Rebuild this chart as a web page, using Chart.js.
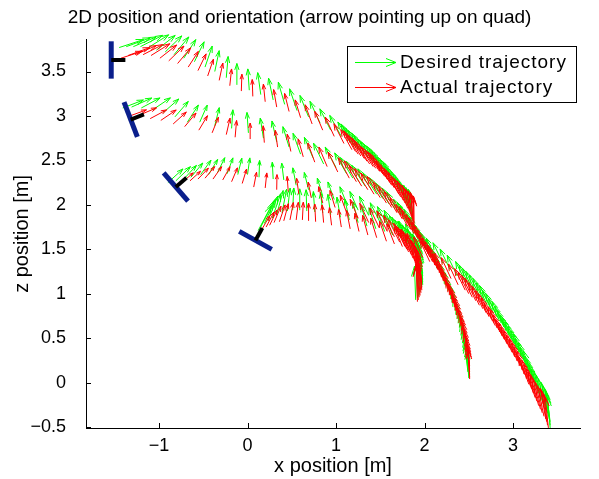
<!DOCTYPE html>
<html>
<head>
<meta charset="utf-8">
<script src="https://cdn.jsdelivr.net/npm/chart.js@4.4.1/dist/chart.umd.min.js"></script>
<style>
  html, body { margin: 0; padding: 0; background: #fff; }
</style>
</head>
<body>
<canvas id="chart" width="599" height="479"></canvas>
<script>
// axis ticks
const xTicks = [-1, 0, 1, 2, 3];
const zTicks = [-0.5, 0, 0.5, 1, 1.5, 2, 2.5, 3, 3.5];

// quad start poses: centre x, z and tilt of the "up" arrow (deg, + = towards +x)
const quadX = [-1.54, -1.32, -0.81, 0.09];
const quadZ = [3.63, 2.96, 2.20, 1.60];
const quadTilt = [90, 69, 49, 29];

// rows: [x, z, tilt (deg), arrow length (m)]
const desired1 = [
  [-1.45, 3.77, 72, .29], [-1.37, 3.78, 70, .29], [-1.29, 3.78, 67, .28], [-1.21, 3.78, 63, .28],
  [-1.12, 3.77, 58, .27], [-1.03, 3.74, 52, .27], [-0.93, 3.72, 46, .26], [-0.83, 3.69, 40, .26],
  [-0.72, 3.65, 33, .25], [-0.60, 3.61, 26, .25], [-0.48, 3.55, 19, .25], [-0.37, 3.50, 12, .24],
  [-0.24, 3.43, 5, .24], [-0.12, 3.35, 0, .24], [0.02, 3.29, -4, .24], [0.15, 3.24, -8, .25],
  [0.29, 3.18, -12, .25], [0.42, 3.13, -16, .26], [0.56, 3.06, -19, .26], [0.69, 2.99, -22, .26],
  [0.82, 2.92, -25, .27], [0.94, 2.84, -27, .27], [1.06, 2.77, -29, .27], [1.16, 2.70, -31, .27],
  [1.20, 2.67, -31, .28], [1.23, 2.64, -32, .28], [1.26, 2.62, -32, .28], [1.29, 2.60, -33, .28],
  [1.33, 2.57, -33, .28], [1.36, 2.54, -34, .28], [1.40, 2.51, -34, .28], [1.43, 2.48, -34, .28],
  [1.47, 2.45, -34, .28], [1.50, 2.43, -34, .28], [1.53, 2.40, -34, .28], [1.56, 2.37, -34, .28],
  [1.59, 2.33, -33, .28], [1.62, 2.30, -33, .28], [1.65, 2.27, -32, .28], [1.68, 2.24, -32, .28],
  [1.70, 2.20, -31, .28], [1.72, 2.17, -30, .28], [1.75, 2.13, -28, .28], [1.77, 2.10, -27, .28],
  [1.79, 2.06, -25, .28], [1.80, 2.03, -23, .28], [1.81, 2.00, -20, .28], [1.82, 1.97, -18, .28],
  [1.84, 1.94, -15, .29], [1.85, 1.91, -12, .29], [1.86, 1.89, -9, .29], [1.86, 1.87, -6, .29],
  [1.86, 1.85, -4, .29], [1.86, 1.83, -2, .29]
];
const actual1 = [
  [-1.43, 3.65, 72, .25], [-1.35, 3.68, 70, .26], [-1.27, 3.69, 67, .26], [-1.18, 3.69, 63, .25],
  [-1.09, 3.68, 58, .25], [-0.99, 3.65, 52, .24], [-0.89, 3.62, 46, .24], [-0.79, 3.59, 40, .23],
  [-0.67, 3.55, 33, .21], [-0.56, 3.51, 26, .21], [-0.45, 3.45, 19, .20], [-0.32, 3.40, 12, .20],
  [-0.20, 3.34, 6, .19], [-0.07, 3.28, 2, .19], [0.06, 3.22, -2, .19], [0.20, 3.16, -6, .20],
  [0.33, 3.10, -10, .20], [0.47, 3.05, -14, .21], [0.60, 2.98, -17, .21], [0.73, 2.91, -20, .23],
  [0.85, 2.84, -23, .23], [0.98, 2.77, -25, .24], [1.09, 2.69, -27, .25], [1.18, 2.62, -29, .26],
  [1.22, 2.60, -30, .27], [1.25, 2.57, -31, .27], [1.28, 2.55, -31, .27], [1.32, 2.52, -32, .27],
  [1.35, 2.49, -32, .28], [1.38, 2.46, -33, .28], [1.42, 2.43, -33, .28], [1.45, 2.41, -34, .28],
  [1.49, 2.38, -34, .28], [1.52, 2.36, -34, .28], [1.55, 2.32, -34, .29], [1.58, 2.29, -34, .29],
  [1.61, 2.25, -33, .29], [1.63, 2.22, -33, .29], [1.66, 2.19, -32, .29], [1.69, 2.16, -31, .29],
  [1.71, 2.12, -30, .30], [1.73, 2.09, -28, .30], [1.76, 2.05, -26, .30], [1.78, 2.02, -24, .30],
  [1.80, 1.99, -21, .30], [1.81, 1.96, -19, .30], [1.83, 1.93, -16, .30], [1.84, 1.90, -14, .30],
  [1.85, 1.87, -11, .31], [1.86, 1.84, -8, .32], [1.87, 1.82, -5, .32], [1.87, 1.80, -3, .32],
  [1.88, 1.78, -1, .32], [1.88, 1.76, 0, .32]
];
const desired2 = [
  [-1.41, 3.09, 69, .25], [-1.31, 3.10, 66, .25], [-1.20, 3.09, 62, .24], [-1.07, 3.07, 56, .24],
  [-0.95, 3.04, 49, .23], [-0.82, 2.99, 41, .23], [-0.68, 2.93, 33, .23], [-0.54, 2.93, 24, .21],
  [-0.37, 2.89, 14, .21], [-0.18, 2.86, 4, .21], [0.01, 2.81, -4, .23], [0.18, 2.75, -9, .23],
  [0.33, 2.71, -13, .24], [0.47, 2.65, -17, .24], [0.60, 2.57, -20, .25], [0.74, 2.53, -23, .25],
  [0.86, 2.46, -26, .26], [1.00, 2.42, -28, .26], [1.12, 2.35, -30, .27], [1.19, 2.30, -31, .27],
  [1.26, 2.26, -32, .27], [1.33, 2.21, -33, .28], [1.40, 2.17, -33, .28], [1.46, 2.12, -33, .28],
  [1.53, 2.07, -33, .28], [1.60, 2.01, -33, .28], [1.67, 1.95, -32, .28], [1.72, 1.90, -31, .28],
  [1.79, 1.82, -30, .28], [1.83, 1.78, -29, .28], [1.86, 1.74, -29, .28], [1.90, 1.70, -28, .28],
  [1.93, 1.65, -28, .28], [1.96, 1.61, -27, .28], [1.98, 1.56, -27, .28], [2.01, 1.52, -26, .28],
  [2.04, 1.47, -26, .28], [2.07, 1.43, -25, .29], [2.10, 1.38, -25, .29], [2.13, 1.34, -24, .29],
  [2.15, 1.29, -24, .29], [2.18, 1.25, -23, .29], [2.20, 1.20, -23, .29], [2.22, 1.16, -22, .29],
  [2.24, 1.11, -22, .29], [2.27, 1.07, -21, .29], [2.29, 1.02, -21, .29], [2.31, 0.98, -20, .29],
  [2.32, 0.93, -20, .29], [2.34, 0.89, -19, .30], [2.36, 0.84, -19, .30], [2.38, 0.80, -18, .30],
  [2.39, 0.75, -18, .30], [2.40, 0.71, -17, .30], [2.41, 0.66, -17, .30], [2.43, 0.62, -16, .30],
  [2.44, 0.57, -16, .30], [2.45, 0.52, -15, .30], [2.46, 0.47, -14, .30], [2.47, 0.42, -13, .30],
  [2.47, 0.37, -12, .30], [2.48, 0.33, -11, .30], [2.48, 0.28, -10, .30], [2.49, 0.24, -9, .30],
  [2.49, 0.19, -8, .30], [2.49, 0.15, -7, .30], [2.49, 0.12, -6, .30], [2.50, 0.08, -5, .30],
  [2.50, 0.05, -4, .30]
];
const actual2 = [
  [-1.33, 3.00, 70, .20], [-1.22, 3.01, 67, .21], [-1.10, 2.97, 62, .21], [-0.98, 2.95, 56, .21],
  [-0.84, 2.91, 48, .20], [-0.71, 2.88, 40, .20], [-0.55, 2.84, 31, .19], [-0.40, 2.81, 22, .19],
  [-0.24, 2.79, 13, .19], [-0.14, 2.76, 5, .19], [0.03, 2.74, 0, .18], [0.19, 2.70, -4, .19],
  [0.34, 2.65, -8, .19], [0.49, 2.60, -12, .20], [0.63, 2.54, -16, .21], [0.76, 2.48, -20, .23],
  [0.90, 2.43, -23, .24], [1.02, 2.37, -26, .25], [1.15, 2.30, -28, .26], [1.23, 2.26, -30, .27],
  [1.29, 2.21, -31, .27], [1.36, 2.17, -32, .28], [1.43, 2.12, -32, .28], [1.50, 2.08, -32, .28],
  [1.57, 2.02, -32, .28], [1.63, 1.97, -32, .28], [1.69, 1.91, -31, .28], [1.75, 1.84, -30, .28],
  [1.81, 1.76, -29, .28], [1.85, 1.72, -28, .29], [1.88, 1.68, -28, .29], [1.92, 1.63, -27, .29],
  [1.95, 1.59, -27, .29], [1.98, 1.54, -26, .29], [2.01, 1.50, -26, .29], [2.04, 1.45, -25, .29],
  [2.06, 1.41, -25, .29], [2.09, 1.36, -24, .29], [2.12, 1.32, -24, .29], [2.15, 1.27, -23, .30],
  [2.18, 1.23, -23, .30], [2.20, 1.18, -22, .30], [2.22, 1.14, -22, .30], [2.25, 1.09, -21, .30],
  [2.27, 1.05, -21, .30], [2.29, 1.00, -20, .30], [2.31, 0.96, -20, .30], [2.33, 0.91, -19, .30],
  [2.34, 0.87, -19, .30], [2.36, 0.82, -18, .31], [2.38, 0.78, -18, .32], [2.40, 0.73, -17, .32],
  [2.41, 0.69, -17, .32], [2.43, 0.64, -16, .32], [2.44, 0.60, -16, .32], [2.45, 0.55, -15, .32],
  [2.46, 0.51, -14, .32], [2.47, 0.46, -13, .32], [2.48, 0.42, -12, .32], [2.49, 0.37, -11, .32],
  [2.49, 0.33, -10, .32], [2.50, 0.28, -9, .32], [2.50, 0.24, -8, .32], [2.51, 0.19, -7, .32],
  [2.51, 0.15, -6, .32], [2.51, 0.12, -5, .32], [2.51, 0.09, -4, .32], [2.51, 0.06, -3, .32],
  [2.51, 0.04, -2, .32]
];
const desired3 = [
  [-0.90, 2.25, 48, .23], [-0.81, 2.27, 46, .23], [-0.72, 2.29, 43, .21], [-0.64, 2.31, 40, .21],
  [-0.53, 2.34, 36, .20], [-0.44, 2.34, 31, .20], [-0.34, 2.36, 26, .19], [-0.23, 2.35, 20, .19],
  [-0.11, 2.34, 14, .19], [0.00, 2.34, 8, .19], [0.13, 2.31, 2, .19], [0.29, 2.29, -3, .19],
  [0.41, 2.28, -7, .19], [0.55, 2.22, -11, .20], [0.69, 2.17, -14, .20], [0.85, 2.10, -17, .21],
  [0.98, 2.06, -20, .21], [1.13, 1.99, -22, .23], [1.25, 1.94, -24, .23], [1.37, 1.88, -26, .24],
  [1.50, 1.80, -27, .25], [1.59, 1.75, -28, .26], [1.67, 1.70, -28, .27], [1.73, 1.64, -28, .27],
  [1.79, 1.58, -27, .28], [1.82, 1.56, -26, .28], [1.84, 1.53, -25, .29], [1.86, 1.50, -22, .29],
  [1.88, 1.47, -20, .29], [1.90, 1.44, -18, .30], [1.92, 1.40, -16, .30], [1.94, 1.37, -14, .31],
  [1.95, 1.34, -13, .32], [1.96, 1.30, -11, .32], [1.97, 1.27, -10, .33], [1.98, 1.23, -9, .33],
  [1.98, 1.20, -8, .34], [1.98, 1.16, -7, .34], [1.98, 1.13, -6, .35], [1.98, 1.10, -5, .35],
  [1.97, 1.08, -5, .36], [1.96, 1.05, -4, .36], [1.95, 1.02, -4, .37], [1.94, 0.99, -3, .37],
  [1.93, 0.97, -3, .38], [1.92, 0.95, -2, .38], [1.90, 0.93, -2, .38]
];
const actual3 = [
  [-0.72, 2.27, 50, .14], [-0.65, 2.27, 48, .16], [-0.56, 2.29, 44, .17], [-0.48, 2.30, 40, .17],
  [-0.39, 2.29, 35, .17], [-0.28, 2.28, 29, .17], [-0.18, 2.26, 23, .17], [-0.06, 2.24, 17, .17],
  [0.07, 2.20, 11, .17], [0.20, 2.19, 6, .17], [0.33, 2.17, 1, .17], [0.46, 2.15, -4, .17],
  [0.58, 2.12, -8, .18], [0.72, 2.08, -11, .18], [0.85, 2.02, -14, .19], [0.99, 1.97, -17, .20],
  [1.12, 1.91, -20, .21], [1.25, 1.85, -23, .23], [1.37, 1.80, -25, .24], [1.49, 1.74, -26, .25],
  [1.58, 1.70, -27, .26], [1.66, 1.64, -27, .27], [1.72, 1.58, -27, .28], [1.78, 1.53, -26, .29],
  [1.80, 1.50, -25, .29], [1.82, 1.47, -24, .30], [1.85, 1.44, -22, .31], [1.87, 1.40, -21, .32],
  [1.89, 1.37, -19, .32], [1.90, 1.34, -18, .33], [1.92, 1.30, -16, .33], [1.94, 1.27, -15, .34],
  [1.95, 1.23, -13, .34], [1.96, 1.20, -12, .35], [1.97, 1.16, -11, .35], [1.97, 1.13, -10, .36],
  [1.97, 1.10, -9, .36], [1.97, 1.07, -8, .37], [1.97, 1.04, -7, .37], [1.96, 1.01, -6, .38],
  [1.95, 0.98, -5, .39], [1.94, 0.96, -4, .40], [1.93, 0.93, -3, .40], [1.92, 0.91, -2, .40]
];
const desired4 = [
  [0.12, 1.71, 28, .32], [0.15, 1.75, 27, .32], [0.19, 1.79, 25, .30], [0.23, 1.82, 22, .30],
  [0.28, 1.85, 19, .29], [0.33, 1.89, 15, .28], [0.39, 1.91, 11, .27], [0.45, 1.93, 7, .26],
  [0.51, 1.94, 3, .25], [0.59, 1.94, 0, .24], [0.67, 1.93, -2, .24], [0.76, 1.92, -4, .23],
  [0.85, 1.91, -6, .23], [0.94, 1.89, -8, .23], [1.05, 1.86, -10, .23], [1.15, 1.83, -12, .24],
  [1.25, 1.80, -14, .24], [1.35, 1.76, -16, .24], [1.45, 1.73, -18, .25], [1.55, 1.70, -20, .25],
  [1.64, 1.66, -22, .25], [1.73, 1.63, -23, .25], [1.81, 1.59, -24, .25], [1.89, 1.56, -25, .25],
  [1.97, 1.52, -25, .25], [2.05, 1.46, -25, .25], [2.13, 1.40, -26, .25], [2.21, 1.34, -26, .26],
  [2.29, 1.27, -26, .26], [2.37, 1.20, -26, .26], [2.47, 1.12, -26, .27], [2.51, 1.08, -26, .27],
  [2.55, 1.04, -26, .27], [2.59, 1.00, -26, .28], [2.63, 0.96, -26, .28], [2.67, 0.92, -26, .28],
  [2.71, 0.87, -26, .28], [2.75, 0.83, -26, .29], [2.78, 0.78, -26, .29], [2.82, 0.74, -26, .29],
  [2.85, 0.69, -26, .29], [2.89, 0.64, -25, .30], [2.92, 0.59, -25, .30], [2.95, 0.54, -25, .30],
  [2.98, 0.49, -25, .30], [3.01, 0.44, -24, .31], [3.04, 0.39, -24, .32], [3.07, 0.34, -23, .32],
  [3.10, 0.29, -23, .32], [3.13, 0.24, -22, .33], [3.15, 0.19, -22, .33], [3.18, 0.14, -21, .33],
  [3.20, 0.09, -21, .33], [3.23, 0.04, -20, .34], [3.25, -0.02, -20, .34], [3.27, -0.07, -19, .34],
  [3.29, -0.12, -18, .34], [3.31, -0.17, -17, .34], [3.33, -0.21, -16, .34], [3.35, -0.26, -15, .35],
  [3.37, -0.30, -14, .35], [3.39, -0.34, -12, .35], [3.40, -0.38, -11, .35], [3.41, -0.41, -9, .35],
  [3.42, -0.44, -8, .35], [3.42, -0.48, -6, .35], [3.42, -0.51, -5, .35]
];
const actual4 = [
  [0.16, 1.72, 30, .18], [0.21, 1.75, 28, .19], [0.25, 1.77, 26, .19], [0.30, 1.80, 23, .20],
  [0.36, 1.81, 19, .20], [0.41, 1.82, 15, .20], [0.48, 1.83, 11, .20], [0.55, 1.83, 7, .20],
  [0.62, 1.83, 3, .20], [0.69, 1.82, 0, .20], [0.77, 1.81, -3, .20], [0.86, 1.80, -5, .20],
  [0.95, 1.77, -7, .20], [1.06, 1.75, -9, .20], [1.16, 1.73, -11, .21], [1.26, 1.70, -13, .21],
  [1.36, 1.66, -15, .23], [1.46, 1.63, -17, .23], [1.57, 1.59, -19, .24], [1.66, 1.56, -21, .24],
  [1.75, 1.53, -22, .24], [1.82, 1.49, -23, .24], [1.90, 1.46, -24, .24], [1.98, 1.41, -24, .25],
  [2.06, 1.36, -25, .25], [2.14, 1.30, -25, .25], [2.22, 1.23, -25, .25], [2.30, 1.17, -25, .26],
  [2.38, 1.10, -25, .26], [2.46, 1.04, -26, .27], [2.50, 1.00, -26, .27], [2.54, 0.96, -26, .27],
  [2.58, 0.92, -26, .28], [2.62, 0.87, -26, .28], [2.66, 0.83, -26, .28], [2.70, 0.78, -26, .28],
  [2.73, 0.74, -26, .29], [2.77, 0.69, -26, .29], [2.80, 0.64, -26, .29], [2.84, 0.59, -25, .29],
  [2.87, 0.54, -25, .30], [2.90, 0.49, -25, .30], [2.93, 0.44, -25, .30], [2.96, 0.39, -24, .30],
  [2.99, 0.34, -24, .31], [3.02, 0.29, -23, .32], [3.05, 0.24, -23, .32], [3.08, 0.19, -22, .32],
  [3.11, 0.14, -22, .33], [3.13, 0.09, -21, .33], [3.16, 0.04, -21, .33], [3.18, -0.02, -20, .33],
  [3.21, -0.07, -19, .34], [3.23, -0.12, -18, .34], [3.25, -0.17, -17, .34], [3.27, -0.21, -16, .34],
  [3.29, -0.26, -15, .35], [3.31, -0.30, -14, .35], [3.33, -0.34, -13, .35], [3.35, -0.38, -12, .35],
  [3.37, -0.41, -10, .35], [3.38, -0.44, -9, .35], [3.39, -0.48, -7, .35], [3.40, -0.51, -6, .35]
];

const GREEN = '#00ff00';
const RED = '#ff0000';
const FONT = "'Liberation Sans', Arial, Helvetica, sans-serif";

Chart.defaults.font.family = FONT;
Chart.defaults.color = '#000';

const toPoints = rows => rows.map(r => ({ x: r[0], y: r[1], tilt: r[2], len: r[3] }));
const series = (label, rows, color) => ({
  label, data: toPoints(rows), borderColor: color, backgroundColor: color,
  pointRadius: 0, showLine: false
});

// matlab-like quiver arrow (alpha/beta head)
function arrow(ctx, x0, y0, x1, y1) {
  const u = x1 - x0, v = y1 - y0, a = 0.3, b = 0.33;
  ctx.moveTo(x0, y0);
  ctx.lineTo(x1, y1);
  ctx.moveTo(x1 - a * (u + b * v), y1 - a * (v - b * u));
  ctx.lineTo(x1, y1);
  ctx.lineTo(x1 - a * (u - b * v), y1 - a * (v + b * u));
}

const quiverPlugin = {
  id: 'quiver',
  afterDatasetsDraw(chart) {
    const { ctx } = chart;
    const xs = chart.scales.x, ys = chart.scales.y;
    ctx.save();
    ctx.lineWidth = 1;
    chart.data.datasets.forEach(ds => {
      ctx.strokeStyle = ds.borderColor;
      ctx.beginPath();
      ds.data.forEach(p => {
        const t = p.tilt * Math.PI / 180;
        arrow(ctx,
          xs.getPixelForValue(p.x), ys.getPixelForValue(p.y),
          xs.getPixelForValue(p.x + p.len * Math.sin(t)),
          ys.getPixelForValue(p.y + p.len * Math.cos(t)));
      });
      ctx.stroke();
    });

    // quads: blue body + black "up" stub
    ctx.lineCap = 'butt';
    quadX.forEach((qx, i) => {
      const t = quadTilt[i] * Math.PI / 180;
      const bx = Math.cos(t) * 0.21, bz = -Math.sin(t) * 0.21;
      ctx.strokeStyle = '#0a1f8c';
      ctx.lineWidth = 5;
      ctx.beginPath();
      ctx.moveTo(xs.getPixelForValue(qx - bx), ys.getPixelForValue(quadZ[i] - bz));
      ctx.lineTo(xs.getPixelForValue(qx + bx), ys.getPixelForValue(quadZ[i] + bz));
      ctx.stroke();
      ctx.strokeStyle = '#000';
      ctx.lineWidth = 4;
      ctx.beginPath();
      ctx.moveTo(xs.getPixelForValue(qx), ys.getPixelForValue(quadZ[i]));
      ctx.lineTo(xs.getPixelForValue(qx + Math.sin(t) * 0.16), ys.getPixelForValue(quadZ[i] + Math.cos(t) * 0.16));
      ctx.stroke();
    });
    ctx.restore();
  },
  afterDraw(chart) {
    const { ctx, chartArea: a } = chart;
    const xs = chart.scales.x, ys = chart.scales.y;
    ctx.save();
    // inward tick marks
    ctx.strokeStyle = '#000';
    ctx.lineWidth = 1;
    ctx.beginPath();
    xTicks.forEach(v => {
      const px = Math.round(xs.getPixelForValue(v)) + 0.5;
      ctx.moveTo(px, a.bottom);
      ctx.lineTo(px, a.bottom - 5);
    });
    zTicks.forEach(v => {
      const py = Math.round(ys.getPixelForValue(v)) + 0.5;
      ctx.moveTo(a.left, py);
      ctx.lineTo(a.left + 5, py);
    });
    ctx.stroke();

    // legend box
    const lx = 347.5, ly = 46.5, lw = 229, lh = 56;
    ctx.fillStyle = '#fff';
    ctx.fillRect(lx, ly, lw, lh);
    ctx.strokeRect(lx, ly, lw, lh);
    const items = [
      ['Desired trajectory', GREEN, 62],
      ['Actual trajectory', RED, 87]
    ];
    ctx.font = '19px ' + FONT;
    if ('letterSpacing' in ctx) ctx.letterSpacing = '1px';
    ctx.textBaseline = 'middle';
    ctx.textAlign = 'left';
    items.forEach(([txt, col, y]) => {
      ctx.strokeStyle = col;
      ctx.beginPath();
      const x0 = 355, x1 = 396, yy = y + 0.5;
      ctx.moveTo(x0, yy);
      ctx.lineTo(x1, yy);
      ctx.moveTo(x1 - 10, yy - 4);
      ctx.lineTo(x1, yy);
      ctx.lineTo(x1 - 10, yy + 4);
      ctx.stroke();
      ctx.fillStyle = '#000';
      ctx.fillText(txt, 400, y + 1);
    });
    ctx.restore();
  }
};

const minusFmt = v => String(v).replace('-', '\u2212');

new Chart(document.getElementById('chart'), {
  type: 'scatter',
  data: {
    datasets: [
      series('Desired trajectory', desired1, GREEN),
      series('Desired trajectory', desired2, GREEN),
      series('Desired trajectory', desired3, GREEN),
      series('Desired trajectory', desired4, GREEN),
      series('Actual trajectory', actual1, RED),
      series('Actual trajectory', actual2, RED),
      series('Actual trajectory', actual3, RED),
      series('Actual trajectory', actual4, RED)
    ]
  },
  options: {
    responsive: false,
    animation: false,
    devicePixelRatio: 1,
    layout: { padding: 0 },
    plugins: {
      legend: { display: false },
      tooltip: { enabled: false },
      title: {
        display: true,
        text: '2D position and orientation (arrow pointing up on quad)',
        color: '#000',
        font: { size: 19, weight: 'normal' },
        padding: { top: 6, bottom: 11 }
      }
    },
    scales: {
      x: {
        type: 'linear',
        min: -1.825,
        max: 3.757,
        grid: { display: false, drawTicks: false },
        border: { display: true, color: '#000', width: 1 },
        ticks: { font: { size: 18 }, color: '#000', padding: 7, callback: minusFmt },
        afterBuildTicks: s => { s.ticks = xTicks.map(v => ({ value: v })); },
        afterFit: s => { s.height = 51; },
        title: { display: true, text: 'x position [m]', font: { size: 20 }, color: '#000', padding: { top: 0, bottom: 1 } }
      },
      y: {
        type: 'linear',
        min: -0.511,
        max: 3.857,
        grid: { display: false, drawTicks: false },
        border: { display: true, color: '#000', width: 1 },
        ticks: { font: { size: 18 }, color: '#000', padding: 20, callback: minusFmt },
        afterBuildTicks: s => { s.ticks = zTicks.map(v => ({ value: v })); },
        afterFit: s => { s.width = 86; },
        title: { display: true, text: 'z position [m]', font: { size: 20 }, color: '#000', padding: { top: 10, bottom: 0 } }
      },
      // empty right margin so the title stays centred on the whole figure
      yRight: {
        type: 'linear',
        position: 'right',
        display: true,
        grid: { display: false, drawTicks: false },
        border: { display: false },
        ticks: { display: false },
        afterFit: s => { s.width = 19; }
      }
    }
  },
  plugins: [quiverPlugin]
});
</script>
</body>
</html>
